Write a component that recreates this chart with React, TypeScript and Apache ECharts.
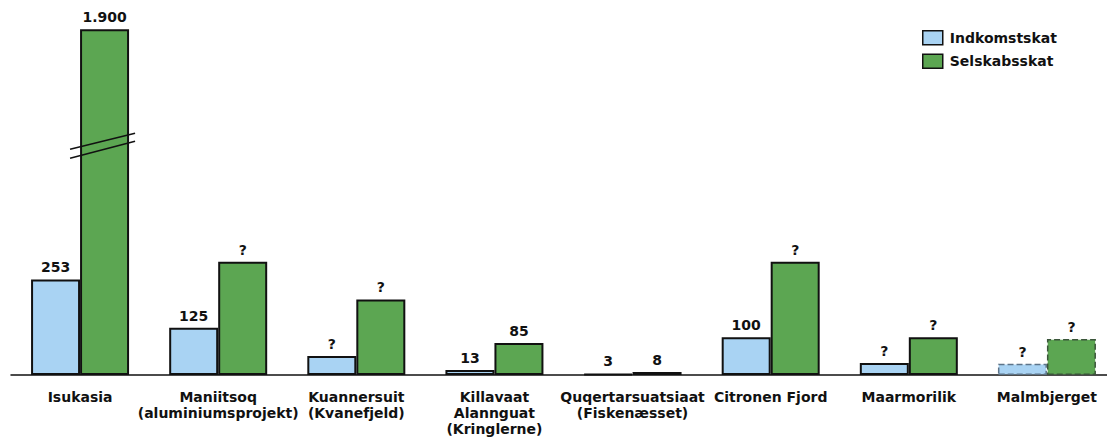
import React, { useEffect, useRef } from "react";
import * as echarts from "echarts";

const categories = [
  "Isukasia",
  "Maniitsoq\n(aluminiumsprojekt)",
  "Kuannersuit\n(Kvanefjeld)",
  "Killavaat\nAlannguat\n(Kringlerne)",
  "Quqertarsuatsiaat\n(Fiskenæsset)",
  "Citronen Fjord",
  "Maarmorilik",
  "Malmbjerget",
];
// bar heights (unknown "?" values are estimated from the picture)
const indkomstskat = [253, 125, 50, 13, 3, 100, 32, 30];
const selskabsskat = [1900, 300, 200, 85, 8, 300, 100, 95];
const indkomstLabels = ["253", "125", "?", "13", "3", "100", "?", "?"];
const selskabsLabels = ["1.900", "?", "?", "85", "8", "?", "?", "?"];
const dashedIndex = [7];

const BREAK_CAP = 915; // drawn height of the broken bar
const BREAK_AT = 608; // where the break marks sit
const Y_MAX = 950;

const BLUE = "#a9d3f3";
const GREEN = "#5ca652";
const FONT = "'DejaVu Sans', Verdana, sans-serif";

export default function App() {
  const ref = useRef<HTMLDivElement>(null);
  useEffect(() => {
    if (!ref.current) return;
    const chart = echarts.init(ref.current, undefined, { renderer: "svg" });
    const barWidth = 49;
    const mk = (vals: number[], labels: string[], color: string, dashColor: string) =>
      vals.map((v, i) => {
        const dashed = dashedIndex.includes(i);
        return {
          value: Math.min(v, BREAK_CAP),
          label: { formatter: labels[i] },
          itemStyle: dashed
            ? { color, borderColor: dashColor, borderType: "dashed", borderWidth: 1.5 }
            : { color },
        };
      });
    const labelStyle = {
      show: true,
      position: "top",
      distance: 5,
      color: "#111",
      fontFamily: FONT,
      fontWeight: "bold",
      fontSize: 14,
    };
    chart.setOption({
      animation: false,
      backgroundColor: "#fff",
      legend: {
        orient: "vertical",
        left: 922,
        top: 30,
        padding: 0,
        itemWidth: 20,
        itemHeight: 14,
        itemGap: 8,
        icon: "rect",
        textStyle: { fontFamily: FONT, fontWeight: "bold", fontSize: 14, color: "#111", padding: [0, 0, 0, 2] },
        itemStyle: { borderColor: "#111", borderWidth: 1.5 },
        data: ["Indkomstskat", "Selskabsskat"],
      },
      grid: { left: 11, right: -9, top: 375 - 359, bottom: 64, outerBoundsMode: "none", containLabel: false },
      xAxis: {
        type: "category",
        data: categories,
        axisLine: { lineStyle: { color: "#111", width: 1.5 } },
        axisTick: { show: false },
        axisLabel: {
          interval: 0,
          margin: 14,
          color: "#111",
          fontFamily: FONT,
          fontWeight: "bold",
          fontSize: 14,
          lineHeight: 16,
        },
      },
      yAxis: { type: "value", min: 0, max: Y_MAX, show: false, splitLine: { show: false } },
      series: [
        {
          name: "Indkomstskat",
          type: "bar",
          barWidth,
          barGap: "0%",
          itemStyle: { color: BLUE, borderColor: "#111", borderWidth: 2 },
          label: labelStyle,
          data: mk(indkomstskat, indkomstLabels, BLUE, "#5d7489"),
        },
        {
          name: "Selskabsskat",
          type: "bar",
          barWidth,
          barGap: "0%",
          itemStyle: { color: GREEN, borderColor: "#111", borderWidth: 2 },
          label: labelStyle,
          data: mk(selskabsskat, selskabsLabels, GREEN, "#3b553b"),
        },
      ],
    });
    // break marks on bars exceeding the cap
    const graphics: any[] = [];
    selskabsskat.forEach((v, i) => {
      if (v <= BREAK_CAP) return;
      const p = chart.convertToPixel({ xAxisIndex: 0, yAxisIndex: 0 }, [i, BREAK_AT]) as number[];
      const cx = p[0] + barWidth / 2;
      const x1 = cx - barWidth / 2 - 10;
      const x2 = cx + barWidth / 2 + 6;
      const y = p[1];
      graphics.push(
        { type: "line", z: 100, shape: { x1, y1: y + 4, x2, y2: y - 12 }, style: { stroke: "#111", lineWidth: 1.5 } },
        { type: "line", z: 100, shape: { x1, y1: y + 13, x2, y2: y - 4 }, style: { stroke: "#111", lineWidth: 1.5 } }
      );
    });
    chart.setOption({ graphic: graphics });
    return () => chart.dispose();
  }, []);
  return <div ref={ref} style={{ width: 1107, height: 439, position: "absolute", left: 0, top: 0 }} />;
}
